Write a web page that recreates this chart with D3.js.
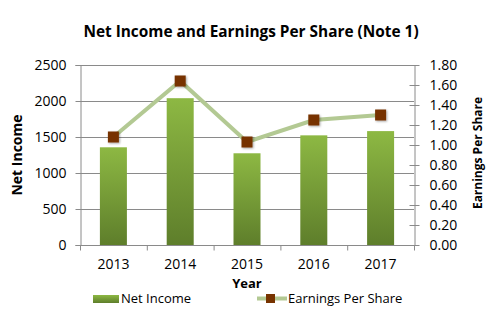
<!DOCTYPE html>
<html>
<head>
<meta charset="utf-8">
<script src="https://cdn.jsdelivr.net/npm/d3@7"></script>
<style>
  body { margin: 0; background: #fff; }
  text { font-family: "Open Sans", "Liberation Sans", sans-serif; fill: #000; }
</style>
</head>
<body>
<div id="chart"></div>
<script>
// data
var years = ["2013", "2014", "2015", "2016", "2017"];
var netIncome = [1357, 2039, 1274, 1523, 1582];
var eps = [1.08, 1.64, 1.03, 1.25, 1.30];
var leftTicks = [0, 500, 1000, 1500, 2000, 2500];
var rightTicks = [0, 0.2, 0.4, 0.6, 0.8, 1.0, 1.2, 1.4, 1.6, 1.8];

var W = 499, H = 316;
var margin = {top: 65, right: 85, bottom: 71, left: 80},
    width = W - margin.left - margin.right,
    height = H - margin.top - margin.bottom;

var svg = d3.select("#chart")
    .append("svg")
        .attr("width", W)
        .attr("height", H);

var defs = svg.append("defs");
var grad = defs.append("linearGradient")
    .attr("id", "barGrad")
    .attr("x1", 0).attr("y1", 0).attr("x2", 0).attr("y2", 1);
grad.append("stop").attr("offset", "0%").attr("stop-color", "#8db843");
grad.append("stop").attr("offset", "100%").attr("stop-color", "#5e7e2b");

var shadow = defs.append("filter").attr("id", "shadow")
    .attr("x", "-50%").attr("y", "-50%").attr("width", "200%").attr("height", "200%");
shadow.append("feDropShadow")
    .attr("dx", 1).attr("dy", 1).attr("stdDeviation", 1)
    .attr("flood-color", "#000").attr("flood-opacity", 0.35);

var g = svg.append("g")
    .attr("transform", "translate(" + margin.left + "," + margin.top + ")");

var x = d3.scaleBand()
    .domain(years)
    .range([0, width]);

var yLeft = d3.scaleLinear()
    .domain([0, 2500])
    .range([height, 0]);

var yRight = d3.scaleLinear()
    .domain([0, 1.8])
    .range([height, 0]);

// gridlines
g.append("g")
    .selectAll("line")
    .data(leftTicks.slice(1))
    .enter()
    .append("line")
        .attr("x1", 0)
        .attr("x2", width)
        .attr("y1", d => yLeft(d) + 0.5)
        .attr("y2", d => yLeft(d) + 0.5)
        .attr("stroke", "#8a8a8a")
        .attr("stroke-width", 1);

// bars
var barW = 27;
g.append("g")
    .selectAll("rect")
    .data(netIncome)
    .enter()
    .append("rect")
        .attr("x", (d, i) => x(years[i]) + x.bandwidth() / 2 - barW / 2)
        .attr("y", d => yLeft(d))
        .attr("width", barW)
        .attr("height", d => height - yLeft(d))
        .attr("fill", "url(#barGrad)");

// left axis
var leftAxis = g.append("g")
    .attr("transform", "translate(0.5,0)")
    .call(d3.axisLeft(yLeft).tickValues(leftTicks).tickFormat(d3.format("d"))
        .tickSize(5).tickPadding(9));
leftAxis.selectAll("text").attr("font-size", "14px");

// right axis with crossing ticks
var rightAxis = g.append("g")
    .attr("transform", "translate(" + (width + 0.5) + ",0)")
    .call(d3.axisRight(yRight).tickValues(rightTicks).tickFormat(d3.format(".2f"))
        .tickSizeInner(5).tickSizeOuter(0).tickPadding(10));
rightAxis.selectAll(".tick line").attr("x1", -5);
rightAxis.selectAll("text").attr("font-size", "14px");

// bottom axis
var bottom = g.append("g")
    .attr("transform", "translate(0," + (height + 0.5) + ")");
bottom.append("line")
    .attr("x1", 0).attr("x2", width)
    .attr("stroke", "#8a8a8a");
bottom.selectAll(".tk")
    .data(years.concat([""]))
    .enter()
    .append("line")
        .attr("class", "tk")
        .attr("x1", (d, i) => i * x.step() + 0.5)
        .attr("x2", (d, i) => i * x.step() + 0.5)
        .attr("y1", 0)
        .attr("y2", 5)
        .attr("stroke", "#8a8a8a");
bottom.selectAll("text")
    .data(years)
    .enter()
    .append("text")
        .attr("x", d => x(d) + x.bandwidth() / 2)
        .attr("y", 23)
        .attr("text-anchor", "middle")
        .attr("font-size", "14px")
        .text(d => d);

svg.selectAll(".domain, .tick line").attr("stroke", "#8a8a8a");

// EPS line
var line = d3.line()
    .x((d, i) => x(years[i]) + x.bandwidth() / 2)
    .y(d => yRight(d));

g.append("path")
    .datum(eps)
    .attr("d", line)
    .attr("fill", "none")
    .attr("stroke", "#b3c993")
    .attr("stroke-width", 4);

g.append("g")
    .selectAll("rect")
    .data(eps)
    .enter()
    .append("rect")
        .attr("x", (d, i) => x(years[i]) + x.bandwidth() / 2 - 5.5)
        .attr("y", d => yRight(d) - 5.5)
        .attr("width", 11)
        .attr("height", 11)
        .attr("fill", "#773300")
        .attr("filter", "url(#shadow)");

// titles
svg.append("text")
    .attr("x", 251)
    .attr("y", 37)
    .attr("text-anchor", "middle")
    .attr("font-size", "15.4px")
    .attr("font-weight", "bold")
    .text("Net Income and Earnings Per Share (Note 1)");

svg.append("text")
    .attr("transform", "translate(22,155) rotate(-90)")
    .attr("text-anchor", "middle")
    .attr("font-size", "14px")
    .attr("font-weight", "bold")
    .text("Net Income");

svg.append("text")
    .attr("transform", "translate(482,153) rotate(-90)")
    .attr("text-anchor", "middle")
    .attr("font-size", "12px")
    .attr("font-weight", "bold")
    .text("Earnings Per Share");

svg.append("text")
    .attr("x", 247)
    .attr("y", 288)
    .attr("text-anchor", "middle")
    .attr("font-size", "13px")
    .attr("font-weight", "bold")
    .text("Year");

// legend
var legend = svg.append("g");
legend.append("rect")
    .attr("x", 93).attr("y", 295)
    .attr("width", 26).attr("height", 8)
    .attr("fill", "url(#barGrad)");
legend.append("text")
    .attr("x", 121).attr("y", 303)
    .attr("font-size", "13px")
    .text("Net Income");

legend.append("line")
    .attr("x1", 257).attr("x2", 287)
    .attr("y1", 298.5).attr("y2", 298.5)
    .attr("stroke", "#b3c993")
    .attr("stroke-width", 4);
legend.append("rect")
    .attr("x", 266).attr("y", 294)
    .attr("width", 9).attr("height", 9)
    .attr("fill", "#773300");
legend.append("text")
    .attr("x", 288).attr("y", 303)
    .attr("font-size", "13px")
    .text("Earnings Per Share");
</script>
</body>
</html>
